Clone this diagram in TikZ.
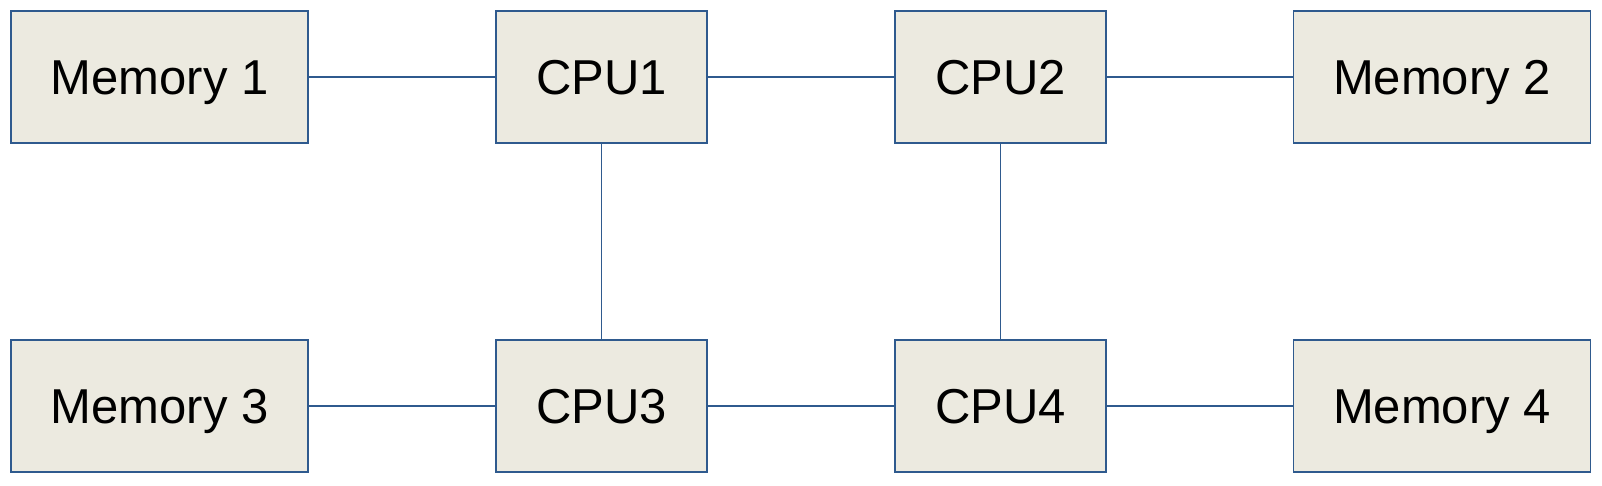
\documentclass[tikz,border=0pt]{standalone}
\usepackage{fontspec}
\setmainfont{Liberation Sans}
\definecolor{boxfill}{HTML}{ECEAE0}
\definecolor{boxline}{HTML}{2F5A8E}
\begin{document}
\begin{tikzpicture}[x=1pt,y=-1pt,
  box/.style={draw=boxline,fill=boxfill,line width=1.4pt,minimum height=132pt,inner sep=0pt,text height=35pt,text depth=0pt,font=\fontsize{49}{57}\selectfont},
  mem/.style={box,minimum width=297pt},
  cpu/.style={box,minimum width=211pt},
  link/.style={draw=boxline,line width=1.4pt}]
\useasboundingbox (0,0) rectangle (1602,486);
\node[mem] (m1) at (159.5,77) {Memory 1};
\node[cpu] (c1) at (601.5,77) {CPU1};
\node[cpu] (c2) at (1000.5,77) {CPU2};
\node[mem] (m2) at (1442,77) {Memory 2};
\node[mem] (m3) at (159.5,406) {Memory 3};
\node[cpu] (c3) at (601.5,406) {CPU3};
\node[cpu] (c4) at (1000.5,406) {CPU4};
\node[mem] (m4) at (1442,406) {Memory 4};
\draw[link] (m1) -- (c1);
\draw[link] (c1) -- (c2);
\draw[link] (c2) -- (m2);
\draw[link] (m3) -- (c3);
\draw[link] (c3) -- (c4);
\draw[link] (c4) -- (m4);
\draw[link] (c1) -- (c3);
\draw[link] (c2) -- (c4);
\end{tikzpicture}
\end{document}
